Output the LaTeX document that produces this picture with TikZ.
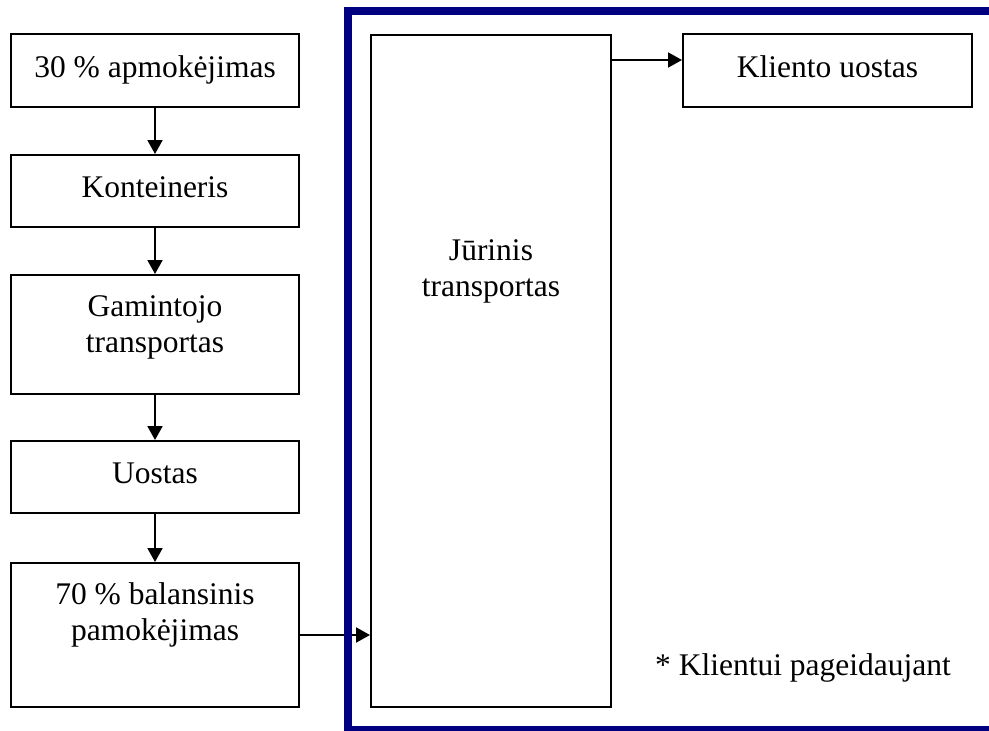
\documentclass[tikz,border=0pt]{standalone}
\usepackage{fontspec}
\setmainfont{Liberation Serif}
\usetikzlibrary{arrows.meta}
\definecolor{framenavy}{RGB}{0,0,128}
\tikzset{
  box/.style={draw=black, line width=2pt, inner sep=0pt},
  lbl/.style={anchor=north, inner sep=0pt, align=center,
              font=\fontsize{31.5}{36}\selectfont},
  flow/.style={line width=2pt, -{Triangle[length=14pt,width=15pt]}},
  seaframe/.style={draw=framenavy, line width=8pt, line join=miter}
}
\begin{document}
\begin{tikzpicture}[x=1pt,y=-1pt]
\useasboundingbox (0,0) rectangle (989,731);

% left column of steps
\node[box, minimum width=288pt, minimum height=73pt]  (b1) at (155,70.5) {};
\node[box, minimum width=288pt, minimum height=72pt]  (b2) at (155,191) {};
\node[box, minimum width=288pt, minimum height=119pt] (b3) at (155,334.5) {};
\node[box, minimum width=288pt, minimum height=72pt]  (b4) at (155,477) {};
\node[box, minimum width=288pt, minimum height=144pt] (b5) at (155,635) {};

% sea transport and destination
\node[box, minimum width=240pt, minimum height=672pt] (sea) at (491,371) {};
\node[box, minimum width=289pt, minimum height=73pt]  (kl)  at (827.5,70.5) {};

% labels
\node[lbl] (t1) at ([yshift=-18.8pt]b1.north) {\strut 30 \% apmokėjimas};
\node[lbl] (t2) at ([yshift=-17.8pt]b2.north) {\strut Konteineris};
\node[lbl] (t3) at ([yshift=-17pt]b3.north) {\strut Gamintojo\\transportas};
\node[lbl] (t4) at ([yshift=-17.8pt]b4.north) {\strut Uostas};
\node[lbl] (t5) at ([yshift=-17pt]b5.north) {\strut 70 \% balansinis\\pamokėjimas};
\node[lbl] (tsea) at ([yshift=-200.8pt]sea.north) {\strut Jūrinis\\transportas};
\node[lbl] (tkl) at ([yshift=-18.8pt]kl.north) {\strut Kliento uostas};
\node[anchor=base west, inner sep=0pt, font=\fontsize{31.5}{36}\selectfont]
  (note) at (655,675) {* Klientui pageidaujant};

% connectors
\draw[flow] (b1) -- (b2);
\draw[flow] (b2) -- (b3);
\draw[flow] (b3) -- (b4);
\draw[flow] (b4) -- (b5);
\draw[flow] (b5.east) -- (sea.west |- b5.east);
\coordinate (klin) at ([yshift=10.5pt]kl.west);
\draw[flow] (sea.east |- klin) -- (klin);

% navy frame, open to the right
\draw[seaframe] (1000,11) -- (347.5,11) -- (347.5,729.5) -- (1000,729.5);
\end{tikzpicture}
\end{document}
